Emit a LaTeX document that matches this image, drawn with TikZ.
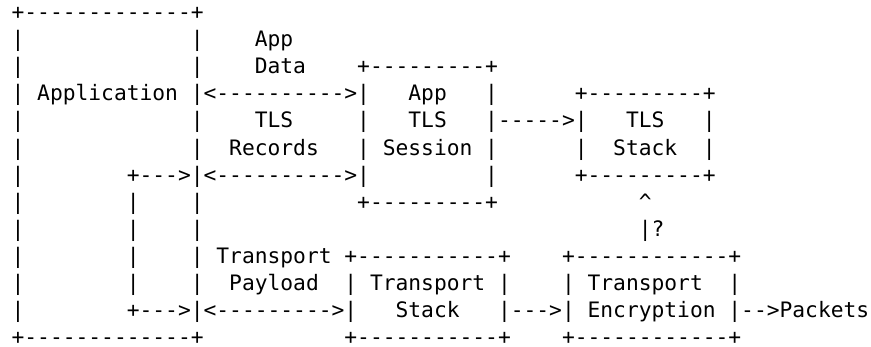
\documentclass[tikz,border=0pt]{standalone}
\usepackage{fontspec}
\newfontfamily\asciifont{DejaVu Sans Mono}
\tikzstyle{ascii} = [inner sep=0pt, outer sep=0pt, anchor=base west, font=\asciifont\fontsize{15.95}{20}\selectfont]

\begin{document}
\begin{tikzpicture}[x=9.6pt, y=-20.325pt]

\fill[white] (-0.906,-0.72) rectangle (67.14,12.048);

% Application box with its inner loop
\node (app_top) [ascii] at (0,0) {+-------------+};
\node (app_bot) [ascii] at (0,12) {+-------------+};
\foreach \r in {1,...,11} {
  \node (app_l\r) [ascii] at (0,\r) {|};
  \node (app_r\r) [ascii] at (14,\r) {|};
}
\node (app_txt) [ascii] at (2,3) {Application};
\node (loop_up) [ascii] at (9,6) {+--->};
\node (loop_dn) [ascii] at (9,11) {+--->};
\foreach \r in {7,...,10}
  \node (loop_l\r) [ascii] at (9,\r) {|};

% Arrows out of the application, with their labels
\node (appdata_lbl1) [ascii] at (19,1) {App};
\node (appdata_lbl2) [ascii] at (19,2) {Data};
\node (appdata_arr) [ascii] at (15,3) {<---------->};
\node (records_lbl1) [ascii] at (19,4) {TLS};
\node (records_lbl2) [ascii] at (17,5) {Records};
\node (records_arr) [ascii] at (15,6) {<---------->};
\node (payload_lbl1) [ascii] at (16,9) {Transport};
\node (payload_lbl2) [ascii] at (17,10) {Payload};
\node (payload_arr) [ascii] at (15,11) {<--------->};

% App TLS Session box
\node (sess_top) [ascii] at (27,2) {+---------+};
\node (sess_bot) [ascii] at (27,7) {+---------+};
\foreach \r in {3,...,6} {
  \node (sess_l\r) [ascii] at (27,\r) {|};
  \node (sess_r\r) [ascii] at (37,\r) {|};
}
\node (sess_txt1) [ascii] at (31,3) {App};
\node (sess_txt2) [ascii] at (31,4) {TLS};
\node (sess_txt3) [ascii] at (29,5) {Session};
\node (sess_arr) [ascii] at (38,4) {----->};

% TLS Stack box
\node (tls_top) [ascii] at (44,3) {+---------+};
\node (tls_bot) [ascii] at (44,6) {+---------+};
\foreach \r in {4,5} {
  \node (tls_l\r) [ascii] at (44,\r) {|};
  \node (tls_r\r) [ascii] at (54,\r) {|};
}
\node (tls_txt1) [ascii] at (48,4) {TLS};
\node (tls_txt2) [ascii] at (47,5) {Stack};
\node (tls_up) [ascii] at (49,7) {\textasciicircum};
\node (tls_q) [ascii] at (49,8) {|?};

% Transport Stack box
\node (tstack_top) [ascii] at (26,9) {+-----------+};
\node (tstack_bot) [ascii] at (26,12) {+-----------+};
\foreach \r in {10,11} {
  \node (tstack_l\r) [ascii] at (26,\r) {|};
  \node (tstack_r\r) [ascii] at (38,\r) {|};
}
\node (tstack_txt1) [ascii] at (28,10) {Transport};
\node (tstack_txt2) [ascii] at (30,11) {Stack};
\node (tstack_arr) [ascii] at (39,11) {--->};

% Transport Encryption box
\node (tenc_top) [ascii] at (43,9) {+------------+};
\node (tenc_bot) [ascii] at (43,12) {+------------+};
\foreach \r in {10,11} {
  \node (tenc_l\r) [ascii] at (43,\r) {|};
  \node (tenc_r\r) [ascii] at (56,\r) {|};
}
\node (tenc_txt1) [ascii] at (45,10) {Transport};
\node (tenc_txt2) [ascii] at (45,11) {Encryption};
\node (packets) [ascii] at (57,11) {-->Packets};

\end{tikzpicture}
\end{document}
